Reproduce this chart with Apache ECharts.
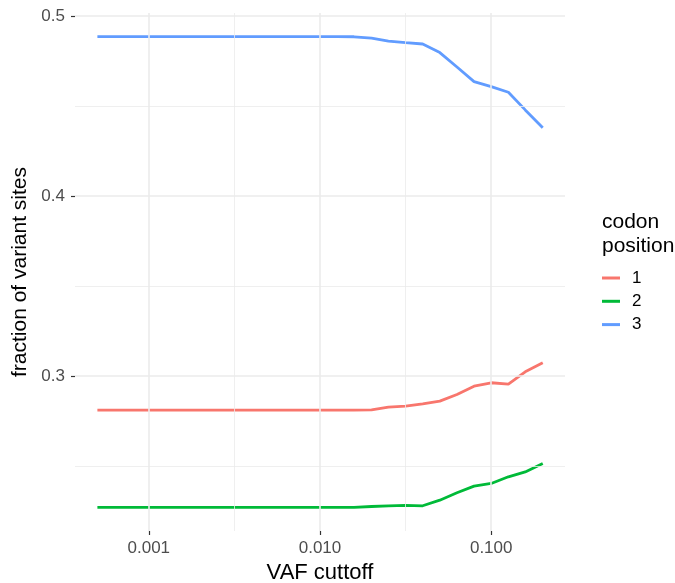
<!DOCTYPE html>
<html>
<head>
<meta charset="utf-8">
<script src="https://cdn.jsdelivr.net/npm/echarts@6/dist/echarts.min.js"></script>
<style>
  html, body { margin: 0; padding: 0; background: #fff; }
  #chart { width: 675px; height: 583px; }
</style>
</head>
<body>
<div id="chart"></div>
<script>
  // VAF cutoffs (log-spaced, 0.1 decade steps)
  const cutoffs = [0.000501, 0.000631, 0.000794, 0.001, 0.00126, 0.00158, 0.002, 0.00251, 0.00316,
    0.00398, 0.00501, 0.00631, 0.00794, 0.01, 0.0126, 0.0158, 0.02, 0.0251, 0.0316, 0.0398,
    0.0501, 0.0631, 0.0794, 0.1, 0.126, 0.158, 0.2];

  const pos1 = [0.2811, 0.2811, 0.2811, 0.2811, 0.2811, 0.2811, 0.2811, 0.2811, 0.2811,
    0.2811, 0.2811, 0.2811, 0.2811, 0.2811, 0.2811, 0.2811, 0.2812, 0.2828, 0.2833, 0.2846,
    0.2861, 0.2898, 0.2944, 0.2963, 0.2956, 0.3024, 0.3074];
  const pos2 = [0.2271, 0.2271, 0.2271, 0.2271, 0.2271, 0.2271, 0.2271, 0.2271, 0.2271,
    0.2271, 0.2271, 0.2271, 0.2271, 0.2271, 0.2271, 0.2271, 0.2276, 0.2280, 0.2282, 0.2280,
    0.2311, 0.2352, 0.2389, 0.2404, 0.2441, 0.2468, 0.2515];
  const pos3 = [0.4885, 0.4885, 0.4885, 0.4885, 0.4885, 0.4885, 0.4885, 0.4885, 0.4885,
    0.4885, 0.4885, 0.4885, 0.4885, 0.4885, 0.4885, 0.4884, 0.4876, 0.4860, 0.4851, 0.4844,
    0.4796, 0.4716, 0.4635, 0.4607, 0.4576, 0.4478, 0.4379];

  const seriesNames = ['1', '2', '3'];
  const seriesColors = ['#F8766D', '#00BA38', '#619CFF'];

  // log10 break positions
  const xMajor = [-3, -2, -1];
  const xMinor = [-2.5, -1.5];
  const yMajor = [0.3, 0.4, 0.5];
  const yMinor = [0.25, 0.35, 0.45];

  const chart = echarts.init(document.getElementById('chart'));
  const font = 'Liberation Sans, Arial, Helvetica, sans-serif';

  const toPoints = (values) => cutoffs.map((c, i) => [Math.log10(c), values[i]]);

  const gridLines = [
    ...xMajor.map((v) => ({ xAxis: v, lineStyle: { width: 1.6 } })),
    ...xMinor.map((v) => ({ xAxis: v, lineStyle: { width: 0.8 } })),
    ...yMajor.map((v) => ({ yAxis: v, lineStyle: { width: 1.6 } })),
    ...yMinor.map((v) => ({ yAxis: v, lineStyle: { width: 0.8 } })),
  ];

  chart.setOption({
    animation: false,
    textStyle: { fontFamily: font },
    grid: { left: 75, top: 13, width: 490, height: 518, outerBoundsMode: 'none', containLabel: false },
    title: {
      text: 'codon\nposition',
      left: 597,
      top: 205,
      textStyle: { fontFamily: font, fontSize: 21, fontWeight: 'normal', color: '#000', lineHeight: 24 },
    },
    legend: {
      orient: 'vertical',
      left: 597,
      top: 263,
      icon: 'rect',
      itemWidth: 18,
      itemHeight: 3,
      itemGap: 3.3,
      data: seriesNames,
      textStyle: { fontFamily: font, fontSize: 17, color: '#000', lineHeight: 20, padding: [0, 0, 0, 7] },
    },
    xAxis: {
      type: 'value',
      min: -3.431,
      max: -0.569,
      name: 'VAF cuttoff',
      nameLocation: 'middle',
      nameGap: 28,
      nameTextStyle: { fontSize: 22, color: '#000', fontFamily: font },
      axisLine: { show: false },
      splitLine: { show: false },
      axisTick: { show: true, customValues: xMajor, length: 4, lineStyle: { color: '#333', width: 1.2 } },
      axisLabel: {
        customValues: xMajor,
        margin: 9,
        fontSize: 17,
        color: '#4d4d4d',
        fontFamily: font,
        formatter: (v) => Math.pow(10, v).toFixed(3),
      },
    },
    yAxis: {
      type: 'value',
      min: 0.214,
      max: 0.5016,
      name: 'fraction of variant sites',
      nameLocation: 'middle',
      nameRotate: 90,
      nameGap: 37,
      nameTextStyle: { fontSize: 21, color: '#000', fontFamily: font },
      axisLine: { show: false },
      splitLine: { show: false },
      axisTick: { show: true, customValues: yMajor, length: 4, lineStyle: { color: '#333', width: 1.2 } },
      axisLabel: {
        customValues: yMajor,
        margin: 10,
        fontSize: 17,
        color: '#4d4d4d',
        fontFamily: font,
        formatter: (v) => String(Math.round(v * 10) / 10),
      },
    },
    series: [
      {
        name: 'grid',
        type: 'line',
        data: [],
        z: 0,
        silent: true,
        markLine: {
          silent: true,
          symbol: 'none',
          label: { show: false },
          animation: false,
          lineStyle: { color: '#ebebeb', type: 'solid' },
          data: gridLines,
        },
      },
      ...[pos1, pos2, pos3].map((vals, i) => ({
        name: seriesNames[i],
        type: 'line',
        data: toPoints(vals),
        showSymbol: false,
        symbol: 'none',
        z: 3,
        itemStyle: { color: seriesColors[i] },
        lineStyle: { color: seriesColors[i], width: 2.8 },
      })),
    ],
  });
</script>
</body>
</html>
